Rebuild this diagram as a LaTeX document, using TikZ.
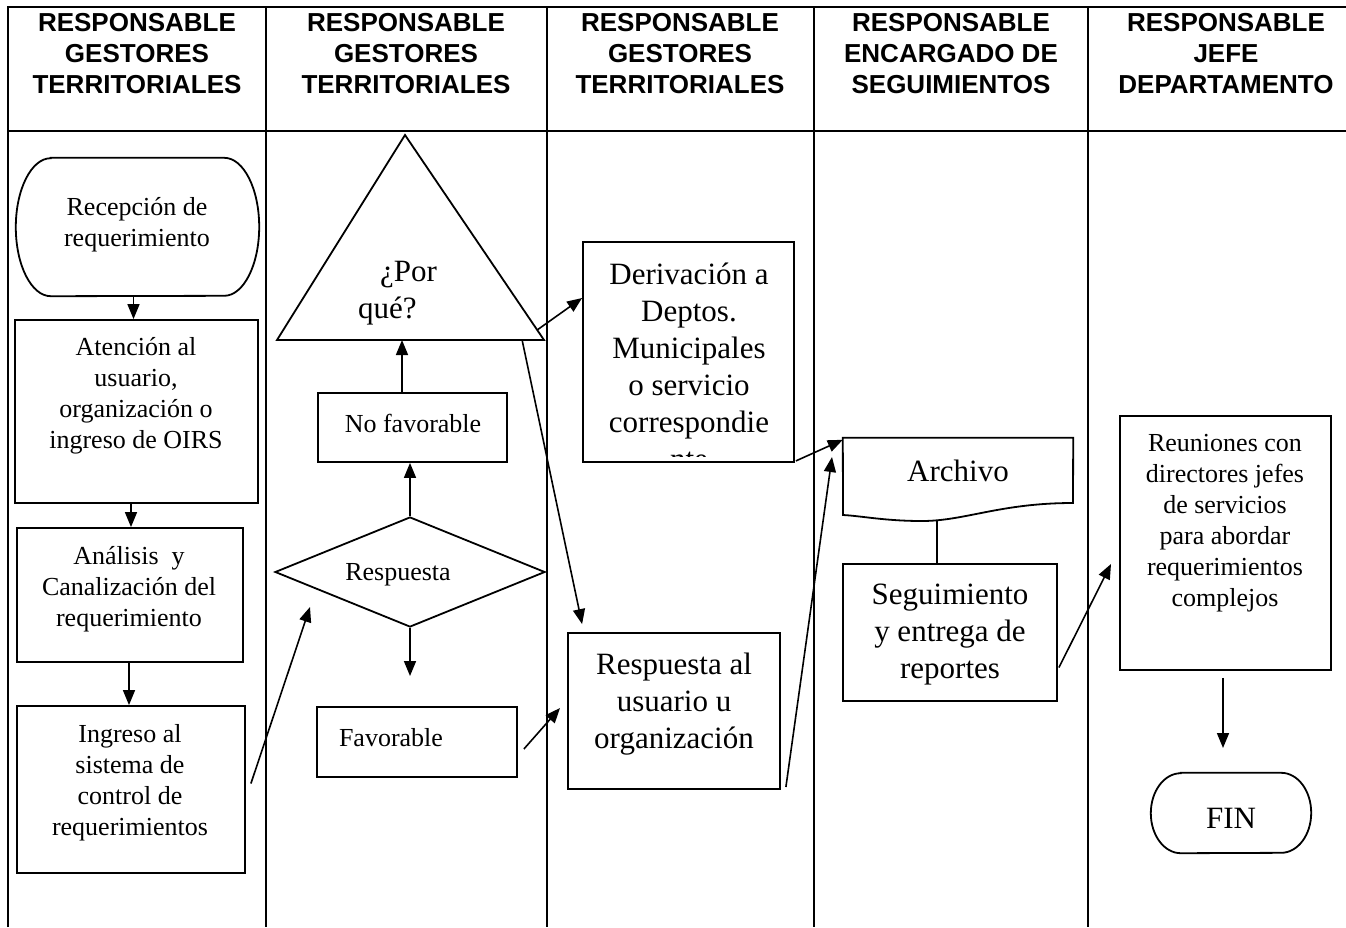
\documentclass[tikz,border=0pt]{standalone}
\usepackage{fontspec}
\setmainfont{Liberation Serif}
\newfontfamily\hfont{Liberation Sans}
\usetikzlibrary{arrows.meta,shapes.geometric,calc}
\begin{document}
\begin{tikzpicture}[x=1pt,y=-1pt,
  grid/.style={line width=1.3pt},
  shp/.style={draw, line width=1.8pt, inner sep=0pt},
  hdr/.style={font=\hfont\bfseries\fontsize{26}{31}\selectfont, align=center, inner sep=0pt},
  txt/.style={font=\fontsize{26}{31}\selectfont, align=center, inner sep=0pt, yshift=-3pt},
  big/.style={font=\fontsize{31}{37}\selectfont, align=center, inner sep=0pt, yshift=-3pt},
  arr/.style={-{Triangle[length=15pt,width=12pt]}, line width=1.6pt},
  ln/.style={line width=1.6pt},
  ]
\useasboundingbox (0,0) rectangle (1346,927);
\fill[white] (0,0) rectangle (1346,927);

% table
\draw[grid] (8,927) -- (8,7) -- (1346,7);
\draw[grid] (8,131) -- (1346,131);
\foreach \cx in {266,547,814,1088} \draw[grid] (\cx,7) -- (\cx,927);

% headers
\node[hdr] (h1) at (137,54) {RESPONSABLE\\GESTORES\\TERRITORIALES};
\node[hdr] (h2) at (406,54) {RESPONSABLE\\GESTORES\\TERRITORIALES};
\node[hdr] (h3) at (680,54) {RESPONSABLE\\GESTORES\\TERRITORIALES};
\node[hdr] (h4) at (951,54) {RESPONSABLE\\ENCARGADO DE\\SEGUIMIENTOS};
\node[hdr] (h5) at (1226,54) {RESPONSABLE\\JEFE\\DEPARTAMENTO};

% start terminator
\node[inner sep=0pt, minimum width=243pt, minimum height=138pt] (start) at (137.5,227) {};
\draw[line width=1.8pt] ([xshift=35pt]start.north west) -- ([xshift=-35pt]start.north east)
  arc[start angle=90, end angle=-90, x radius=35pt, y radius=69pt]
  -- ([xshift=35pt]start.south west)
  arc[start angle=270, end angle=90, x radius=35pt, y radius=69pt] -- cycle;
\node[txt] (startT) at (137,222) {Recepción de\\requerimiento};

% column 1 boxes
\node[shp, minimum width=243pt, minimum height=183pt] (atn) at (136.5,411.5) {};
\node[txt] (atnT) at (136,393) {Atención al\\usuario,\\organización o\\ingreso de OIRS};
\node[shp, minimum width=226pt, minimum height=134pt] (ana) at (130,595) {};
\node[txt] (anaT) at (129,586.5) {Análisis\ \ y\\Canalización del\\requerimiento};
\node[shp, minimum width=228pt, minimum height=167pt] (ing) at (131,789.5) {};
\node[txt] (ingT) at (130,780) {Ingreso al\\sistema de\\control de\\requerimientos};

\draw[arr] ([xshift=-4pt]start.south) -- ([xshift=-4pt]start.south |- atn.north);
\draw[arr] ([xshift=-5.5pt]atn.south) -- ([xshift=-5.5pt]atn.south |- ana.north);
\draw[arr] ([xshift=-1pt]ana.south) -- ([xshift=-1pt]ana.south |- ing.north);

% column 2
\coordinate (tA) at (405,135);
\coordinate (tL) at (277,340);
\coordinate (tR) at (544,340);
\draw[line width=1.8pt, line join=miter] (tA) -- (tR) -- (tL) -- cycle;
\node[big, align=left, anchor=west, yshift=-1pt] (triT) at (358,289.5) {\hspace*{22pt}¿Por\\qué?};

\node[shp, minimum width=189pt, minimum height=69pt] (nof) at (412.5,427.5) {};
\node[txt] (nofT) at (413,420) {No favorable};
\node[shp, diamond, minimum width=270pt, minimum height=110pt] (dia) at (410,572) {};
\node[txt] (diaT) at (398,572) {Respuesta};
\node[shp, minimum width=200pt, minimum height=70pt] (fav) at (417,742) {};
\node[txt] (favT) at (391,735) {Favorable};

\coordinate (a1) at (310,607);
\draw[arr] ([xshift=5pt,yshift=6pt]ing.east) -- (a1);
\draw[arr] (dia.north) -- (dia.north |- nof.south);
\draw[arr] ([xshift=-10.5pt]nof.north) -- ([xshift=-10.5pt]nof.north |- tL);
\coordinate (a2) at (410,676);
\draw[arr] (dia.south) -- (a2);

% column 3
\node[shp, minimum width=211pt, minimum height=220pt] (der) at (688.5,352) {};
\begin{scope}
\clip (584,243) rectangle (793,456);
\node[big] (derT) at (689,363.5) {Derivación a\\Deptos.\\Municipales\\o servicio\\correspondie\\nte};
\end{scope}
\node[shp, minimum width=212pt, minimum height=156pt] (rsp) at (674,711) {};
\node[big] (rspT) at (674,701.5) {Respuesta al\\usuario u\\organización};

\draw[arr] ($(tA)!0.951!(tR)$) -- ([yshift=54pt]der.west);
\draw[arr] ($(tL)!0.918!(tR)$) -- ([xshift=15pt,yshift=8pt]rsp.north west);
\coordinate (a3) at (560,708);
\draw[arr] ([xshift=6pt,yshift=-7pt]fav.east) -- (a3);

% column 4
\node[inner sep=0pt, minimum width=230pt, minimum height=77pt] (arch) at (958,476.5) {};
\draw[line width=1.8pt] (arch.north west) -- (arch.north east) -- (1073,503)
  .. controls (1000,503) and (965,521) .. (922,521)
  .. controls (885,521) and (862,516) .. (843,515) -- cycle;
\node[big] (archT) at (958,468) {Archivo};
\node[shp, minimum width=214pt, minimum height=137pt] (seg) at (950,632.5) {};
\node[big] (segT) at (950,632) {Seguimiento\\y entrega de\\reportes};
\coordinate (wv) at (937,520.5);
\draw[ln] (wv) -- (wv |- seg.north);

\draw[arr] ([xshift=1pt,yshift=2pt]der.south east) -- ([yshift=-2pt]arch.north west);
\coordinate (a4) at (832,457);
\draw[arr] ([xshift=5pt,yshift=-76pt]rsp.east) -- (a4);

% column 5
\node[shp, minimum width=211pt, minimum height=254pt] (reu) at (1225.5,543) {};
\node[txt] (reuT) at (1225,520) {Reuniones con\\directores jefes\\de servicios\\para abordar\\requerimientos\\complejos};
\coordinate (a5) at (1111,564);
\draw[arr] ([xshift=1pt,yshift=-35pt]seg.east) -- (a5);

\node[inner sep=0pt, minimum width=160pt, minimum height=80pt] (fin) at (1231,813) {};
\draw[line width=1.8pt] ([xshift=30pt]fin.north west) -- ([xshift=-30pt]fin.north east)
  arc[start angle=90, end angle=-90, x radius=30pt, y radius=40pt]
  -- ([xshift=30pt]fin.south west)
  arc[start angle=270, end angle=90, x radius=30pt, y radius=40pt] -- cycle;
\node[big] (finT) at (1231,815) {FIN};
\coordinate (a6) at (1223,748);
\draw[arr] ([xshift=-2.5pt,yshift=-7pt]reu.south) -- (a6);
\end{tikzpicture}
\end{document}
